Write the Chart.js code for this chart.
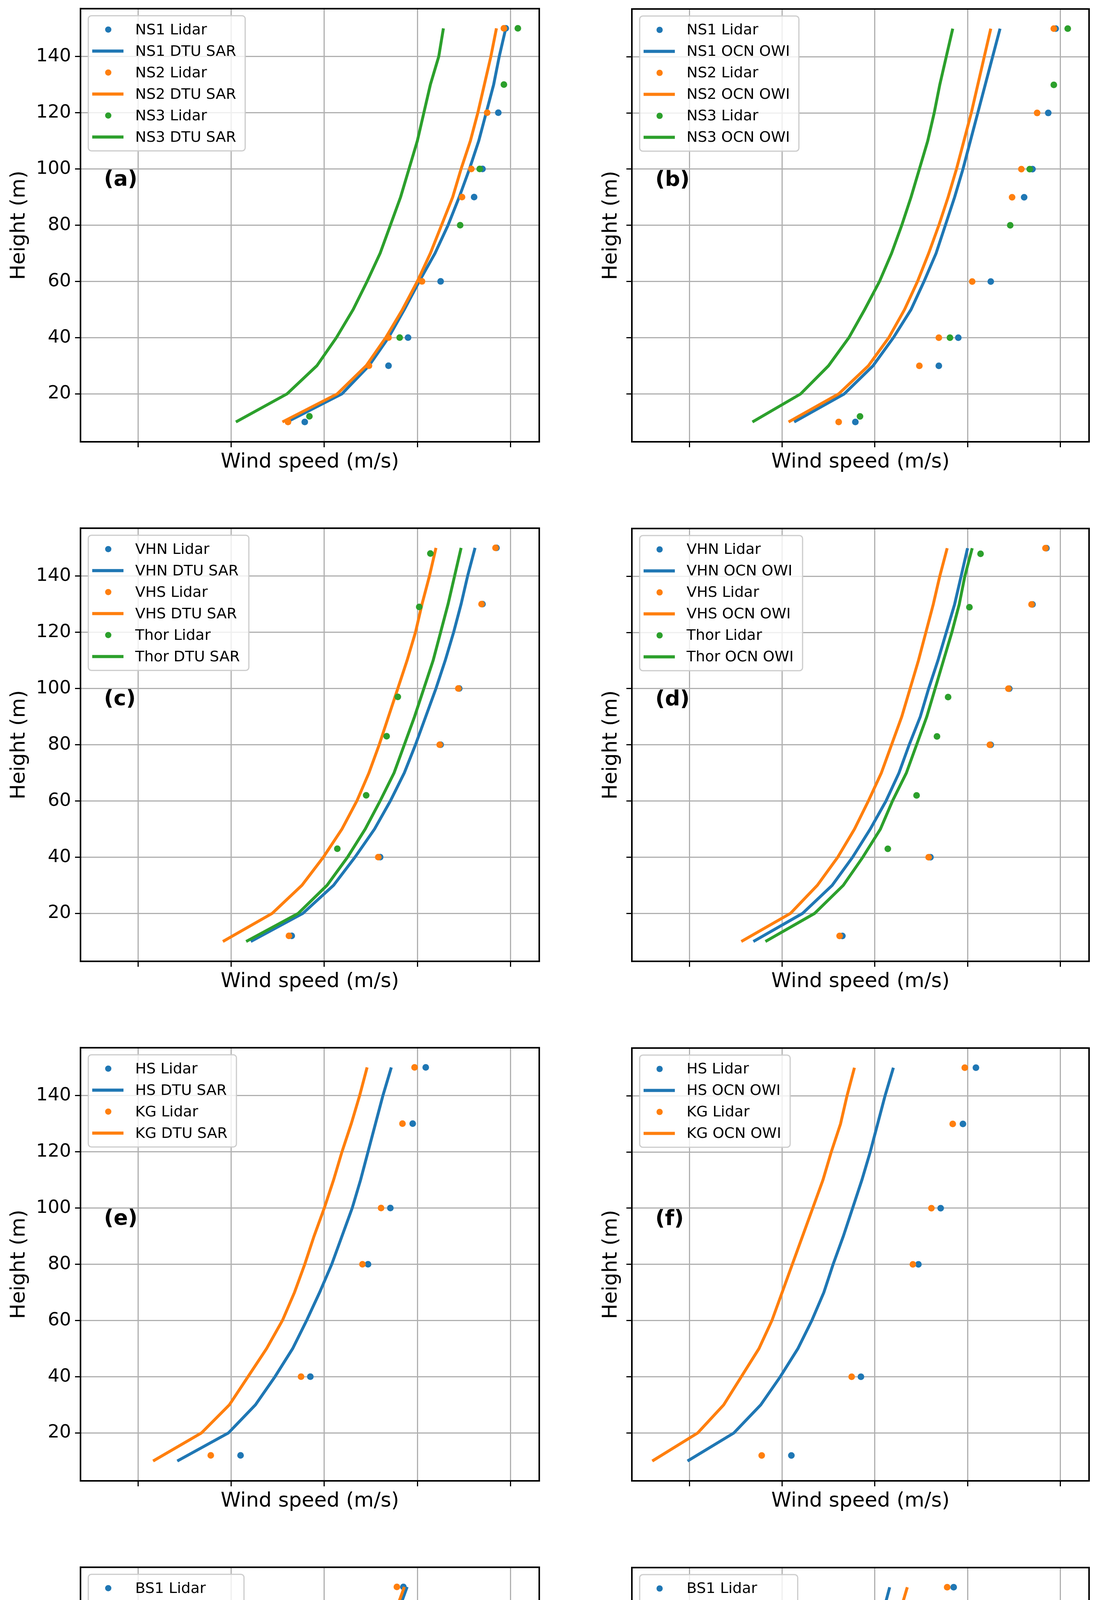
<!DOCTYPE html>
<html>
<head>
<meta charset="utf-8">
<script src="https://cdn.jsdelivr.net/npm/chart.js@4.4.0/dist/chart.umd.min.js"></script>
<style>
  html, body { margin: 0; background: #fff; overflow: hidden; }
  #wrap { position: relative; width: 2815px; height: 5286px; overflow: hidden; }
  .cell { position: absolute; }
</style>
</head>
<body>
<div id="wrap"></div>
<script>
// heights of the model profiles (m)
const modelHeights = [10, 20, 30, 40, 50, 60, 70, 80, 90, 100, 110, 120, 130, 140, 150];

// (a)/(b) North Sea
const ns1LidarH = [10, 30, 40, 60, 90, 100, 120, 150];
const ns1Lidar = [8.79, 9.69, 9.90, 10.25, 10.61, 10.70, 10.87, 10.95];
const ns2LidarH = [10, 30, 40, 60, 90, 100, 120, 150];
const ns2Lidar = [8.61, 9.48, 9.69, 10.05, 10.48, 10.58, 10.75, 10.93];
const ns3LidarH = [12, 40, 80, 100, 130, 150];
const ns3Lidar = [8.84, 9.81, 10.46, 10.67, 10.93, 11.08];
const ns1Dtu = [8.60, 9.19, 9.48, 9.69, 9.86, 10.02, 10.19, 10.33, 10.45, 10.56, 10.66, 10.74, 10.82, 10.88, 10.95];
const ns2Dtu = [8.55, 9.14, 9.45, 9.66, 9.84, 10.00, 10.14, 10.26, 10.38, 10.47, 10.57, 10.65, 10.72, 10.79, 10.85];
const ns3Dtu = [8.05, 8.60, 8.92, 9.13, 9.31, 9.46, 9.60, 9.71, 9.82, 9.91, 10.00, 10.07, 10.14, 10.23, 10.28];
const ns1Owi = [8.13, 8.67, 8.98, 9.20, 9.39, 9.53, 9.66, 9.76, 9.86, 9.95, 10.03, 10.11, 10.19, 10.27, 10.35];
const ns2Owi = [8.07, 8.61, 8.93, 9.15, 9.32, 9.46, 9.58, 9.69, 9.79, 9.88, 9.96, 10.04, 10.11, 10.18, 10.25];
const ns3Owi = [7.68, 8.20, 8.50, 8.72, 8.89, 9.05, 9.18, 9.29, 9.39, 9.48, 9.57, 9.64, 9.70, 9.77, 9.84];

// (c)/(d)
const vhLidarH = [12, 40, 80, 100, 130, 150];
const vhnLidar = [8.65, 9.60, 10.25, 10.45, 10.70, 10.85];
const vhsLidar = [8.62, 9.58, 10.24, 10.44, 10.69, 10.84];
const thorLidarH = [43, 62, 83, 97, 129, 148];
const thorLidar = [9.14, 9.45, 9.67, 9.79, 10.02, 10.14];
const vhnDtu = [8.21, 8.77, 9.10, 9.33, 9.54, 9.71, 9.86, 9.98, 10.09, 10.20, 10.30, 10.39, 10.47, 10.54, 10.62];
const vhsDtu = [7.91, 8.44, 8.76, 8.99, 9.19, 9.35, 9.48, 9.59, 9.69, 9.79, 9.89, 9.98, 10.05, 10.13, 10.20];
const thorDtu = [8.16, 8.72, 9.03, 9.25, 9.44, 9.60, 9.75, 9.86, 9.97, 10.07, 10.17, 10.25, 10.33, 10.40, 10.47];
const vhnOwi = [7.69, 8.22, 8.54, 8.76, 8.95, 9.12, 9.26, 9.37, 9.49, 9.58, 9.68, 9.77, 9.86, 9.93, 10.00];
const vhsOwi = [7.56, 8.09, 8.38, 8.60, 8.78, 8.93, 9.07, 9.18, 9.29, 9.38, 9.47, 9.55, 9.63, 9.70, 9.78];
const thorOwi = [7.82, 8.35, 8.66, 8.87, 9.06, 9.19, 9.34, 9.45, 9.56, 9.65, 9.74, 9.83, 9.91, 9.97, 10.05];

// (e)/(f)
const hkLidarH = [12, 40, 80, 100, 130, 150];
const hsLidar = [8.10, 8.85, 9.47, 9.71, 9.95, 10.09];
const kgLidar = [7.78, 8.75, 9.41, 9.61, 9.84, 9.97];
const hsDtu = [7.42, 7.97, 8.26, 8.47, 8.66, 8.81, 8.95, 9.08, 9.19, 9.30, 9.39, 9.47, 9.55, 9.63, 9.72];
const kgDtu = [7.16, 7.68, 7.98, 8.18, 8.38, 8.55, 8.68, 8.79, 8.89, 9.00, 9.10, 9.19, 9.29, 9.38, 9.46];
const hsOwi = [6.98, 7.48, 7.77, 7.98, 8.17, 8.32, 8.45, 8.55, 8.66, 8.76, 8.86, 8.95, 9.03, 9.11, 9.20];
const kgOwi = [6.60, 7.09, 7.37, 7.56, 7.75, 7.89, 8.00, 8.11, 8.22, 8.33, 8.44, 8.53, 8.63, 8.70, 8.78];

// (g)/(h)
const bsLidarH = [10, 30, 40, 60, 90, 100, 120, 150];
const bs1Lidar = [7.52, 8.29, 8.53, 8.94, 9.36, 9.46, 9.65, 9.85];
const bs2Lidar = [7.52, 8.29, 8.53, 8.94, 9.35, 9.43, 9.60, 9.78];
const bs1Dtu = [7.47, 8.00, 8.32, 8.55, 8.75, 8.91, 9.05, 9.17, 9.30, 9.40, 9.49, 9.59, 9.68, 9.78, 9.89];
const bs2Dtu = [7.47, 8.00, 8.32, 8.55, 8.75, 8.91, 9.05, 9.17, 9.29, 9.39, 9.48, 9.57, 9.66, 9.75, 9.86];
const bs1Owi = [6.89, 7.39, 7.68, 7.89, 8.09, 8.25, 8.38, 8.51, 8.63, 8.73, 8.82, 8.92, 9.00, 9.08, 9.16];
const bs2Owi = [7.04, 7.54, 7.85, 8.05, 8.25, 8.42, 8.55, 8.67, 8.78, 8.89, 8.99, 9.08, 9.18, 9.26, 9.35];

const xTicks = [7, 8, 9, 10, 11];
const yTicks = [20, 40, 60, 80, 100, 120, 140];
const colors = ['#1f77b4', '#ff7f0e', '#2ca02c'];

function pts(xs, hs) { return xs.map((v, i) => ({ x: v, y: hs[i] })); }

// each panel: [label, model name, [site, lidarX, lidarH, modelX] ...]
const panels = [
  ['(a)', 'DTU SAR', [['NS1', ns1Lidar, ns1LidarH, ns1Dtu], ['NS2', ns2Lidar, ns2LidarH, ns2Dtu], ['NS3', ns3Lidar, ns3LidarH, ns3Dtu]]],
  ['(b)', 'OCN OWI', [['NS1', ns1Lidar, ns1LidarH, ns1Owi], ['NS2', ns2Lidar, ns2LidarH, ns2Owi], ['NS3', ns3Lidar, ns3LidarH, ns3Owi]]],
  ['(c)', 'DTU SAR', [['VHN', vhnLidar, vhLidarH, vhnDtu], ['VHS', vhsLidar, vhLidarH, vhsDtu], ['Thor', thorLidar, thorLidarH, thorDtu]]],
  ['(d)', 'OCN OWI', [['VHN', vhnLidar, vhLidarH, vhnOwi], ['VHS', vhsLidar, vhLidarH, vhsOwi], ['Thor', thorLidar, thorLidarH, thorOwi]]],
  ['(e)', 'DTU SAR', [['HS', hsLidar, hkLidarH, hsDtu], ['KG', kgLidar, hkLidarH, kgDtu]]],
  ['(f)', 'OCN OWI', [['HS', hsLidar, hkLidarH, hsOwi], ['KG', kgLidar, hkLidarH, kgOwi]]],
  ['(g)', 'DTU SAR', [['BS1', bs1Lidar, bsLidarH, bs1Dtu], ['BS2', bs2Lidar, bsLidarH, bs2Dtu]]],
  ['(h)', 'OCN OWI', [['BS1', bs1Lidar, bsLidarH, bs1Owi], ['BS2', bs2Lidar, bsLidarH, bs2Owi]]]
];

const FONT = "'DejaVu Sans', sans-serif";

// legend inside the axes, panel letter and full frame
const insideLegend = {
  id: 'insideLegend',
  afterDraw(chart, args, opts) {
    const ctx = chart.ctx;
    const a = chart.chartArea;
    const ds = chart.data.datasets;
    const rowH = 55;
    ctx.save();
    ctx.strokeStyle = '#000';
    ctx.lineWidth = 4;
    ctx.strokeRect(a.left, a.top, a.right - a.left, a.bottom - a.top);

    ctx.font = '38px ' + FONT;
    let w = 0;
    ds.forEach(d => { w = Math.max(w, ctx.measureText(d.label).width); });
    const bx = a.left + 20, by = a.top + 18;
    const bw = 125 + w + 18, bh = ds.length * rowH + 16;
    ctx.fillStyle = 'rgba(255,255,255,0.8)';
    ctx.strokeStyle = '#cccccc';
    ctx.lineWidth = 3;
    ctx.beginPath();
    ctx.roundRect(bx, by, bw, bh, 8);
    ctx.fill();
    ctx.stroke();
    ds.forEach((d, i) => {
      const cy = by + 8 + rowH * i + rowH / 2;
      if (d.showLine) {
        ctx.strokeStyle = d.borderColor;
        ctx.lineWidth = 8;
        ctx.beginPath();
        ctx.moveTo(bx + 10, cy);
        ctx.lineTo(bx + 90, cy);
        ctx.stroke();
      } else {
        ctx.fillStyle = d.borderColor;
        ctx.beginPath();
        ctx.arc(bx + 51, cy, 8, 0, Math.PI * 2);
        ctx.fill();
      }
      ctx.fillStyle = '#000';
      ctx.textBaseline = 'middle';
      ctx.fillText(d.label, bx + 120, cy + 2);
    });
    // panel letter
    ctx.font = 'bold 54px ' + FONT;
    ctx.fillStyle = '#000';
    ctx.textBaseline = 'middle';
    ctx.fillText(opts.letter, a.left + 60, chart.scales.y.getPixelForValue(96));
    ctx.restore();
  }
};

const wrap = document.getElementById('wrap');
const rowTops = [0, 1330, 2660, 3990];
const plotTop = 23, plotH = 1108;

panels.forEach((p, k) => {
  const row = Math.floor(k / 2), col = k % 2;
  const leftCol = col === 0, bottomRow = row === 3;
  const yw = leftCol ? 206 : 84;
  const xh = bottomRow ? 152 : 88;
  // left column: tick labels add about 16px above the plot, so shift it up
  const shift = leftCol ? 16 : 0;
  const div = document.createElement('div');
  div.className = 'cell';
  const left = leftCol ? 0 : 1617 - yw;
  const right = leftCol ? 1380 : 2787;
  div.style.left = left + 'px';
  div.style.width = (right - left + 28) + 'px';
  div.style.top = (rowTops[row] - shift) + 'px';
  div.style.height = (plotTop + plotH + xh + shift) + 'px';
  const cv = document.createElement('canvas');
  div.appendChild(cv);
  wrap.appendChild(div);

  const datasets = [];
  p[2].forEach((s, i) => {
    datasets.push({
      label: s[0] + ' Lidar', data: pts(s[1], s[2]), showLine: false,
      backgroundColor: colors[i], borderColor: colors[i], pointRadius: 8.5, pointBorderWidth: 0
    });
    datasets.push({
      label: s[0] + ' ' + p[1], data: pts(s[3], modelHeights), showLine: true,
      borderColor: colors[i], backgroundColor: colors[i], borderWidth: 7.5, pointRadius: 0
    });
  });
  datasets.forEach((d, i) => { d.order = datasets.length - i; });

  new Chart(cv, {
    type: 'scatter',
    data: { datasets: datasets },
    plugins: [insideLegend],
    options: {
      responsive: true,
      maintainAspectRatio: false,
      animation: false,
      layout: { padding: { top: leftCol ? 9 : plotTop, right: 28, left: 0, bottom: 0 } },
      plugins: { legend: { display: false }, tooltip: { enabled: false }, insideLegend: { letter: p[0] } },
      scales: {
        x: {
          min: 6.38, max: 11.31,
          afterBuildTicks: s => { s.ticks = xTicks.map(v => ({ value: v })); },
          afterFit: s => { s.height = xh; },
          border: { color: '#000', width: 4 },
          grid: { color: '#b0b0b0', lineWidth: 3, tickLength: 14, tickColor: '#000' },
          ticks: { display: bottomRow, color: '#000', font: { size: 47, family: FONT }, padding: 8 },
          title: { display: true, text: 'Wind speed (m/s)', color: '#000', font: { size: 52, family: FONT }, padding: { top: 4, bottom: 4 } }
        },
        y: {
          min: 2.95, max: 157,
          afterBuildTicks: s => { s.ticks = yTicks.map(v => ({ value: v })); },
          afterFit: s => { s.width = yw; },
          border: { color: '#000', width: 4 },
          grid: { color: '#b0b0b0', lineWidth: 3, tickLength: 14, tickColor: '#000' },
          ticks: { display: leftCol, color: '#000', font: { size: 47, family: FONT }, padding: 10 },
          title: { display: true, text: 'Height (m)', color: '#000', font: { size: 52, family: FONT }, padding: { top: leftCol ? 18 : 0, bottom: 0 } }
        }
      }
    }
  });
});
</script>
</body>
</html>
